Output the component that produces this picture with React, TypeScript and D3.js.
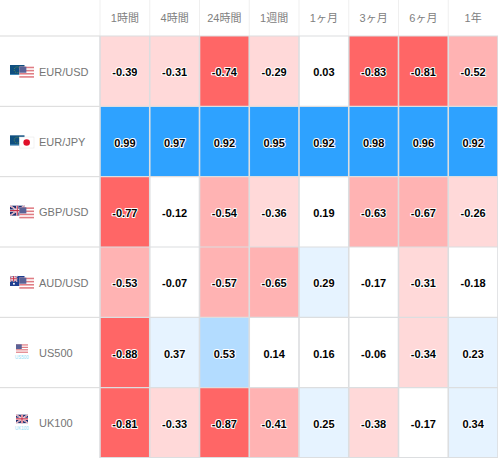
import React from "react";
import * as d3 from "d3";

const periods = ["1時間", "4時間", "24時間", "1週間", "1ヶ月", "3ヶ月", "6ヶ月", "1年"];
const symbols = ["EUR/USD", "EUR/JPY", "GBP/USD", "AUD/USD", "US500", "UK100"];
const eurusd = [-0.39, -0.31, -0.74, -0.29, 0.03, -0.83, -0.81, -0.52];
const eurjpy = [0.99, 0.97, 0.92, 0.95, 0.92, 0.98, 0.96, 0.92];
const gbpusd = [-0.77, -0.12, -0.54, -0.36, 0.19, -0.63, -0.67, -0.26];
const audusd = [-0.53, -0.07, -0.57, -0.65, 0.29, -0.17, -0.31, -0.18];
const us500 = [-0.88, 0.37, 0.53, 0.14, 0.16, -0.06, -0.34, 0.23];
const uk100 = [-0.81, -0.33, -0.87, -0.41, 0.25, -0.38, -0.17, 0.34];
const rows = [eurusd, eurjpy, gbpusd, audusd, us500, uk100];

const colorThresholds = [-0.7, -0.4, -0.2, 0.2, 0.5, 0.7];
const colorRange = ["#ff6666", "#ffb3b3", "#ffd9d9", "#ffffff", "#e6f3ff", "#b3dcff", "#2ea2ff"];

const W = 498, H = 458, headerH = 36, labelW = 100;
const x = d3.scaleBand<number>().domain(d3.range(periods.length)).range([labelW, W]);
const y = d3.scaleBand<number>().domain(d3.range(symbols.length)).range([headerH, H]);
const color = d3.scaleThreshold<number, string>().domain(colorThresholds).range(colorRange);
const FONT = "'Liberation Sans', Arial, 'Noto Sans CJK JP', sans-serif";
const gridColor = "#dcdee0";

function Usa({ x, y, w, h }: any) {
  const n = 7;
  return <g>
    <rect x={x} y={y} width={w} height={h} fill="#fff" />
    {d3.range(n).map(i => i % 2 === 0 ? <rect key={i} x={x} y={y + (i * h) / n} width={w} height={h / n} fill="#e07d84" /> : null)}
    <rect x={x} y={y} width={w * 0.48} height={h * 0.55} fill="#5a6296" />
  </g>;
}
function Eur({ x, y, w, h }: any) {
  return <g>
    <rect x={x} y={y} width={w} height={h} fill="#0f4f80" />
    <circle cx={x + w * 0.5} cy={y + h * 0.48} r={h * 0.3} fill="none" stroke="#6f9a40" strokeWidth={0.8} strokeDasharray="1 1" />
    <rect x={x} y={y + h - 1} width={w} height={1} fill="#3f87b5" />
  </g>;
}
function Uk({ x, y, w, h }: any) {
  return <g>
    <rect x={x} y={y} width={w} height={h} fill="#1f2f70" />
    <path d={`M${x} ${y}L${x + w} ${y + h}M${x + w} ${y}L${x} ${y + h}`} stroke="#fff" strokeWidth={1.4} />
    <path d={`M${x} ${y}L${x + w} ${y + h}M${x + w} ${y}L${x} ${y + h}`} stroke="#c9405a" strokeWidth={0.6} />
    <path d={`M${x + w / 2} ${y}V${y + h}M${x} ${y + h / 2}H${x + w}`} stroke="#fff" strokeWidth={2.2} />
    <path d={`M${x + w / 2} ${y}V${y + h}M${x} ${y + h / 2}H${x + w}`} stroke="#c9304a" strokeWidth={1.1} />
  </g>;
}
function Aud({ x, y, w, h }: any) {
  return <g>
    <rect x={x} y={y} width={w} height={h} fill="#1f3f90" />
    <Uk x={x} y={y} w={w * 0.5} h={h * 0.55} />
    <circle cx={x + w * 0.27} cy={y + h * 0.78} r={1} fill="#fff" />
    <circle cx={x + w * 0.75} cy={y + h * 0.3} r={0.8} fill="#fff" />
    <circle cx={x + w * 0.8} cy={y + h * 0.72} r={0.8} fill="#fff" />
  </g>;
}
function Jpy({ x, y, w, h }: any) {
  return <g>
    <rect x={x} y={y} width={w} height={h} fill="#fff" stroke="#e5e5e5" strokeWidth={0.5} />
    <circle cx={x + w / 2} cy={y + h / 2} r={h * 0.3} fill="#e0102a" />
  </g>;
}
const Flag: Record<string, any> = { EUR: Eur, USD: Usa, JPY: Jpy, GBP: Uk, AUD: Aud };

function Icon({ symbol, cy }: { symbol: string; cy: number }) {
  if (symbol.includes("/")) {
    const [a, b] = symbol.split("/");
    const A = Flag[a], B = Flag[b];
    return <g>
      <A x={10} y={cy - 6} w={14.5} h={10} />
      <B x={19.3} y={cy - 4.3} w={14.7} h={11} />
    </g>;
  }
  const F = symbol === "US500" ? Usa : Uk;
  return <g>
    <F x={16} y={cy - 8} w={12} h={8.5} />
    <text x={22} y={cy + 7} textAnchor="middle" fontSize={4.5} fill="#8fdcf5" fontFamily={FONT}>{symbol}</text>
  </g>;
}

export default function App() {
  return (
    <svg width={W} height={H} style={{ position: "absolute", left: 0, top: 0, background: "#fff" }} fontFamily={FONT}>
      {periods.map((p, j) => (
        <g key={p}>
          <line x1={x(j)!} x2={x(j)!} y1={0} y2={headerH} stroke="#efefef" />
          <text x={x(j)! + x.bandwidth() / 2} y={22} textAnchor="middle" fontSize={11} fill="#808080">{p}</text>
        </g>
      ))}
      {symbols.map((s, i) => (
        <g key={s}>
          <line x1={0} x2={labelW} y1={y(i)!} y2={y(i)!} stroke="#d9d9d9" />
          <Icon symbol={s} cy={y(i)! + 35} />
          <text x={39} y={y(i)! + 39.5} fontSize={11} fill="#757575">{s}</text>
        </g>
      ))}
      {rows.map((vals, i) => vals.map((v, j) => (
        <rect key={`${i}-${j}`} x={x(j)!} y={y(i)!} width={x.bandwidth()} height={y.bandwidth()} fill={color(v)} />
      )))}
      {d3.range(periods.length + 1).map(j => {
        const px = j < periods.length ? x(j)! : W;
        return <line key={j} x1={px} x2={px} y1={headerH} y2={H} stroke={gridColor} strokeWidth={1.6} />;
      })}
      {d3.range(symbols.length + 1).map(i => {
        const py = i < symbols.length ? y(i)! : H - 0.5;
        return <line key={i} x1={labelW} x2={W} y1={py} y2={py} stroke={gridColor} strokeWidth={1.2} />;
      })}
      {rows.map((vals, i) => vals.map((v, j) => (
        <text key={`${i}-${j}`} x={x(j)! + x.bandwidth() / 2} y={y(i)! + y.bandwidth() / 2 + 5} textAnchor="middle" fontSize={11} fontWeight={700} fill="#000" stroke="#fff" strokeWidth={2} paintOrder="stroke" strokeLinejoin="round">{v.toFixed(2)}</text>
      )))}
    </svg>
  );
}
